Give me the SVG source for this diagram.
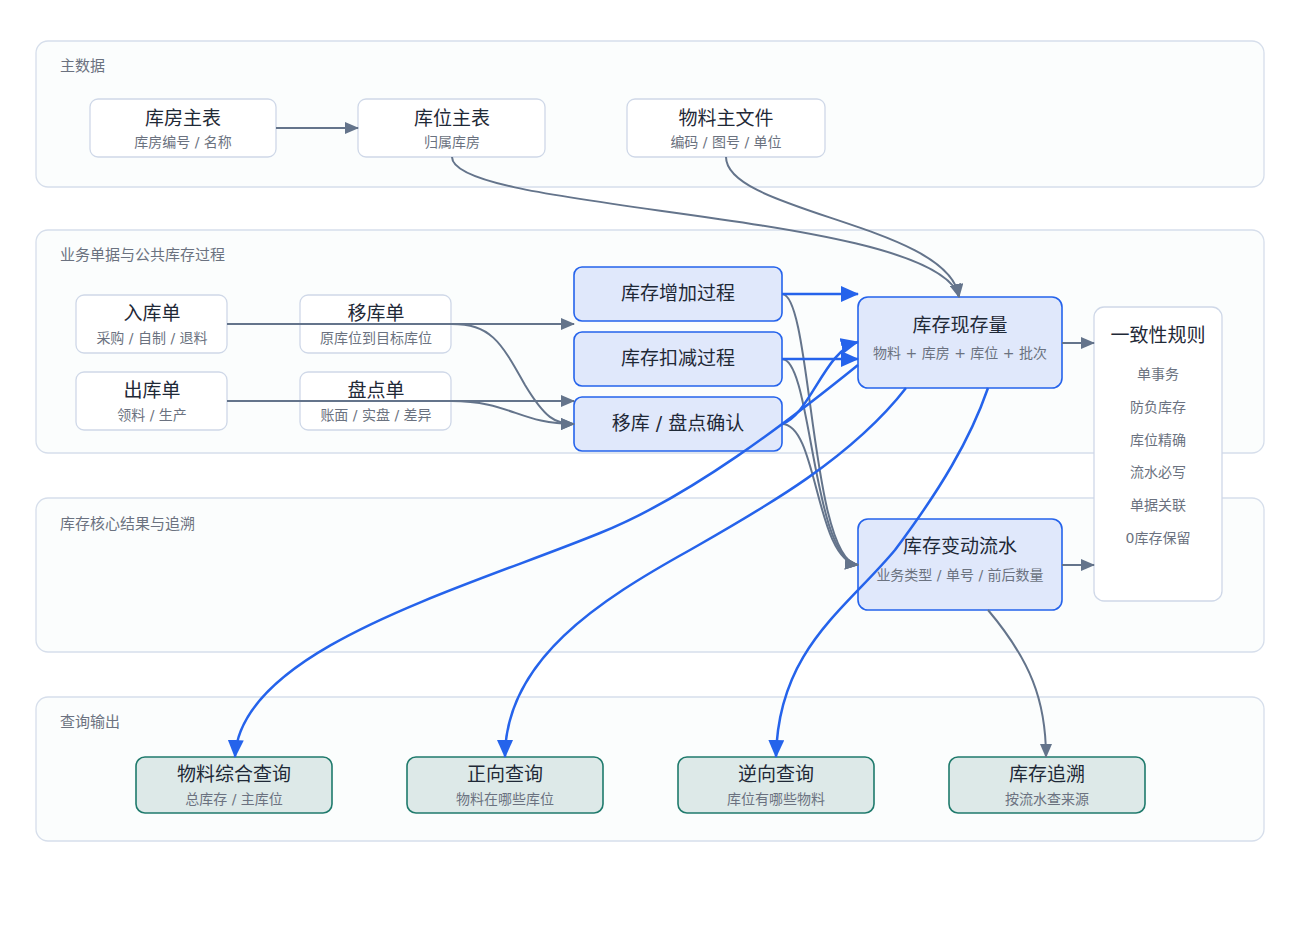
<svg xmlns="http://www.w3.org/2000/svg" width="1300" height="930" viewBox="0 0 1300 930">
<defs>
<style>
text{font-family:"DejaVu Sans","Noto Sans CJK SC",sans-serif;text-anchor:middle}
.cl{fill:#fbfdfd;stroke:#d6deeb;stroke-width:1.3}
.cll{font-size:15px;fill:#6b7280;text-anchor:start}
.nw{fill:#ffffff;stroke:#cfd8e8;stroke-width:1.3}
.np{fill:#e0e8fb;stroke:#2563eb;stroke-width:1.6}
.nq{fill:#dde9e8;stroke:#1f7a6c;stroke-width:1.6}
.t{font-size:19px;fill:#1f2937}
.s{font-size:14px;fill:#6b7280}
.eg{fill:none;stroke:#64748b;stroke-width:2}
.eb{fill:none;stroke:#2563eb;stroke-width:2.5}
</style>
<marker id="ag" markerUnits="userSpaceOnUse" markerWidth="14" markerHeight="12" refX="13" refY="6" orient="auto"><path d="M0,0 L14,6 L0,12 z" fill="#64748b"/></marker>
<marker id="ab" markerUnits="userSpaceOnUse" markerWidth="18" markerHeight="16" refX="17" refY="8" orient="auto"><path d="M0,0 L18,8 L0,16 z" fill="#2563eb"/></marker>
</defs>
<rect width="1300" height="930" fill="#ffffff"/>
<g id="clusters">
<g id="c-master"><rect class="cl" x="36" y="41" width="1228" height="146" rx="12"/><text class="cll" x="60" y="71">主数据</text></g>
<g id="c-biz"><rect class="cl" x="36" y="230" width="1228" height="223" rx="12"/><text class="cll" x="60" y="260">业务单据与公共库存过程</text></g>
<g id="c-core"><rect class="cl" x="36" y="498" width="1228" height="154" rx="12"/><text class="cll" x="60" y="529">库存核心结果与追溯</text></g>
<g id="c-query"><rect class="cl" x="36" y="697" width="1228" height="144" rx="12"/><text class="cll" x="60" y="727">查询输出</text></g>
</g>
<g id="n-warehouse"><rect class="nw" x="90" y="99" width="186" height="58" rx="8"/><text class="t" x="183" y="125">库房主表</text><text class="s" x="183" y="147">库房编号 / 名称</text></g>
<g id="n-location"><rect class="nw" x="358" y="99" width="187" height="58" rx="8"/><text class="t" x="452" y="125">库位主表</text><text class="s" x="452" y="147">归属库房</text></g>
<g id="n-material"><rect class="nw" x="627" y="99" width="198" height="58" rx="8"/><text class="t" x="726" y="125">物料主文件</text><text class="s" x="726" y="147">编码 / 图号 / 单位</text></g>
<g id="n-in"><rect class="nw" x="76" y="295" width="151" height="58" rx="8"/><text class="t" x="152" y="320">入库单</text><text class="s" x="152" y="343">采购 / 自制 / 退料</text></g>
<g id="n-move"><rect class="nw" x="300" y="295" width="151" height="58" rx="8"/><text class="t" x="376" y="320">移库单</text><text class="s" x="376" y="343">原库位到目标库位</text></g>
<g id="n-out"><rect class="nw" x="76" y="372" width="151" height="58" rx="8"/><text class="t" x="152" y="397">出库单</text><text class="s" x="152" y="420">领料 / 生产</text></g>
<g id="n-count"><rect class="nw" x="300" y="372" width="151" height="58" rx="8"/><text class="t" x="376" y="397">盘点单</text><text class="s" x="376" y="420">账面 / 实盘 / 差异</text></g>
<g id="n-add"><rect class="np" x="574" y="267" width="208" height="54" rx="8"/><text class="t" x="678" y="300">库存增加过程</text></g>
<g id="n-sub"><rect class="np" x="574" y="332" width="208" height="54" rx="8"/><text class="t" x="678" y="365">库存扣减过程</text></g>
<g id="n-confirm"><rect class="np" x="574" y="397" width="208" height="54" rx="8"/><text class="t" x="678" y="430">移库 / 盘点确认</text></g>
<g id="n-onhand"><rect class="np" x="858" y="297" width="204" height="91" rx="10"/><text class="t" x="960" y="332">库存现存量</text><text class="s" x="960" y="358">物料 + 库房 + 库位 + 批次</text></g>
<g id="n-ledger"><rect class="np" x="858" y="519" width="204" height="91" rx="10"/><text class="t" x="960" y="553">库存变动流水</text><text class="s" x="960" y="580">业务类型 / 单号 / 前后数量</text></g>
<g id="n-rules"><rect class="nw" x="1094" y="307" width="128" height="294" rx="10"/><text class="t" x="1158" y="342">一致性规则</text>
<text class="s" x="1158" y="379">单事务</text><text class="s" x="1158" y="412">防负库存</text><text class="s" x="1158" y="445">库位精确</text><text class="s" x="1158" y="477">流水必写</text><text class="s" x="1158" y="510">单据关联</text><text class="s" x="1158" y="543">0库存保留</text></g>
<g id="n-q1"><rect class="nq" x="136" y="757" width="196" height="56" rx="9"/><text class="t" x="234" y="781">物料综合查询</text><text class="s" x="234" y="804">总库存 / 主库位</text></g>
<g id="n-q2"><rect class="nq" x="407" y="757" width="196" height="56" rx="9"/><text class="t" x="505" y="781">正向查询</text><text class="s" x="505" y="804">物料在哪些库位</text></g>
<g id="n-q3"><rect class="nq" x="678" y="757" width="196" height="56" rx="9"/><text class="t" x="776" y="781">逆向查询</text><text class="s" x="776" y="804">库位有哪些物料</text></g>
<g id="n-q4"><rect class="nq" x="949" y="757" width="196" height="56" rx="9"/><text class="t" x="1047" y="781">库存追溯</text><text class="s" x="1047" y="804">按流水查来源</text></g>
<g id="connectors">
<path class="eg" d="M276,128 L358,128" marker-end="url(#ag)"/>
<path class="eg" d="M452,157 C452,212 936,212 959,297" marker-end="url(#ag)"/>
<path class="eg" d="M726,157 C726,212 950,225 959,297" marker-end="url(#ag)"/>
<path class="eg" d="M227,324 L574,324" marker-end="url(#ag)"/>
<path class="eg" d="M451,324 C490,324 500,340 525,385 C545,418 555,424 574,424" marker-end="url(#ag)"/>
<path class="eg" d="M227,401 L574,401" marker-end="url(#ag)"/>
<path class="eg" d="M451,401 C510,401 520,424 574,424" marker-end="url(#ag)"/>
<path class="eg" d="M782,294 C812,294 810,560 858,565" marker-end="url(#ag)"/>
<path class="eg" d="M782,359 C812,359 812,560 858,565" marker-end="url(#ag)"/>
<path class="eg" d="M782,424 C818,424 815,560 858,565" marker-end="url(#ag)"/>
<path class="eg" d="M1062,343 L1094,343" marker-end="url(#ag)"/>
<path class="eg" d="M1062,565 L1094,565" marker-end="url(#ag)"/>
<path class="eg" d="M988,610 C1030,660 1046,700 1046,757" marker-end="url(#ag)"/>
<path class="eb" d="M782,294 L858,294" marker-end="url(#ab)"/>
<path class="eb" d="M782,359 L858,359" marker-end="url(#ab)"/>
<path class="eb" d="M782,424 C810,415 825,350 858,342" marker-end="url(#ab)"/>
<path class="eb" d="M858,365 C790,420 690,497 600,533 C460,590 240,650 235,757" marker-end="url(#ab)"/>
<path class="eb" d="M906,388 C850,460 760,510 690,550 C600,600 505,660 505,757" marker-end="url(#ab)"/>
<path class="eb" d="M988,388 C970,440 940,490 895,550 C845,610 778,650 776,757" marker-end="url(#ab)"/>
</g>
</svg>
